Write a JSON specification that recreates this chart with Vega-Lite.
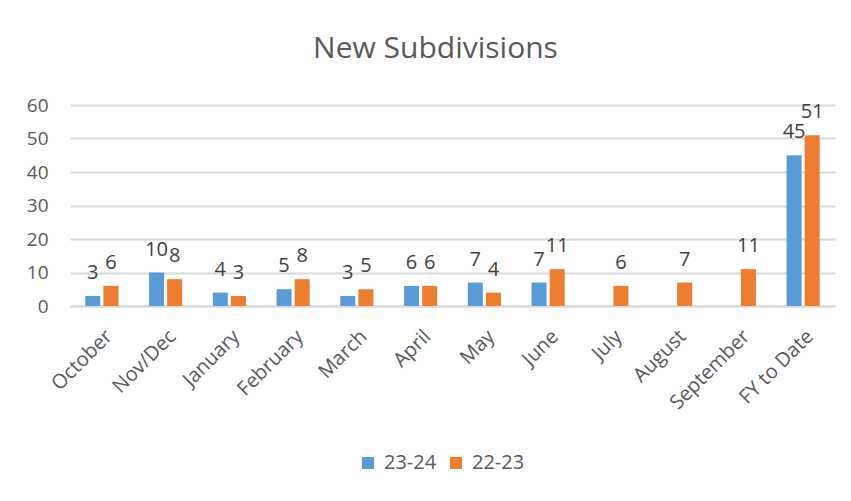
{
  "$schema": "https://vega.github.io/schema/vega-lite/v6.json",
  "autosize": {"type": "none"},
  "padding": {"left": 70, "top": 105, "right": 16, "bottom": 195},
  "width": 765,
  "height": 201,
  "background": "white",
  "title": {"text": "New Subdivisions", "fontSize": 30, "font": "Open Sans", "fontWeight": "normal", "color": "#595959", "anchor": "middle", "dx": -17, "offset": 32},
  "data": {"values": [
    {"month": "October", "series": "23-24", "value": 3},
    {"month": "October", "series": "22-23", "value": 6},
    {"month": "Nov/Dec", "series": "23-24", "value": 10},
    {"month": "Nov/Dec", "series": "22-23", "value": 8},
    {"month": "January", "series": "23-24", "value": 4},
    {"month": "January", "series": "22-23", "value": 3},
    {"month": "February", "series": "23-24", "value": 5},
    {"month": "February", "series": "22-23", "value": 8},
    {"month": "March", "series": "23-24", "value": 3},
    {"month": "March", "series": "22-23", "value": 5},
    {"month": "April", "series": "23-24", "value": 6},
    {"month": "April", "series": "22-23", "value": 6},
    {"month": "May", "series": "23-24", "value": 7},
    {"month": "May", "series": "22-23", "value": 4},
    {"month": "June", "series": "23-24", "value": 7},
    {"month": "June", "series": "22-23", "value": 11},
    {"month": "July", "series": "22-23", "value": 6},
    {"month": "August", "series": "22-23", "value": 7},
    {"month": "September", "series": "22-23", "value": 11},
    {"month": "FY to Date", "series": "23-24", "value": 45},
    {"month": "FY to Date", "series": "22-23", "value": 51}
  ]},
  "encoding": {
    "x": {"field": "month", "type": "nominal", "sort": null,
      "scale": {"domain": ["October","Nov/Dec","January","February","March","April","May","June","July","August","September","FY to Date"], "paddingInner": 0.48, "paddingOuter": 0.24},
      "axis": {"title": null, "labelAngle": -45, "labelFontSize": 20, "labelColor": "#595959", "labelFont": "Open Sans", "ticks": false, "domainColor": "#d9d9d9", "domainWidth": 2, "labelPadding": 20}},
    "xOffset": {"field": "series", "type": "nominal", "scale": {"domain": ["23-24", "22-23"], "paddingInner": 0.17}},
    "y": {"field": "value", "type": "quantitative",
      "scale": {"domain": [0, 60], "nice": false},
      "axis": {"title": null, "values": [0,10,20,30,40,50,60], "labelFontSize": 19, "labelColor": "#595959", "labelFont": "Open Sans", "ticks": false, "domain": false, "gridColor": "#d9d9d9", "gridWidth": 2, "labelPadding": 22}}
  },
  "layer": [
    {"mark": {"type": "bar"},
     "encoding": {"color": {"field": "series", "type": "nominal",
        "scale": {"domain": ["23-24", "22-23"], "range": ["#5B9BD5", "#ED7D31"]},
        "legend": {"title": null, "orient": "none", "legendX": 288, "legendY": 348, "direction": "horizontal", "symbolType": "square", "symbolSize": 144, "labelFontSize": 20, "labelFont": "Open Sans", "labelColor": "#595959", "labelOffset": 6, "columnPadding": 9, "symbolStrokeWidth": 0}}}},
    {"mark": {"type": "text", "baseline": "alphabetic", "dy": -17, "fontSize": 20, "font": "Open Sans", "color": "#404040"},
     "encoding": {"text": {"field": "value", "type": "quantitative"}}}
  ],
  "config": {"view": {"stroke": null}}
}
